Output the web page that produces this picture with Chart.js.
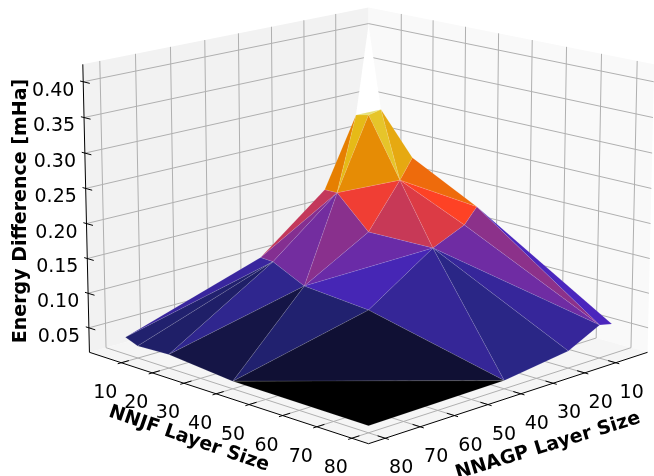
<!DOCTYPE html>
<html>
<head>
<meta charset="utf-8">
<script src="https://cdn.jsdelivr.net/npm/chart.js@4"></script>
<style>
html, body { margin: 0; padding: 0; background: #fff; overflow: hidden; }
canvas { display: block; }
</style>
</head>
<body>
<canvas id="surfaceChart" width="654" height="476"></canvas>
<script>
// layer sizes of the trained grid
const nnjfSizes = [6, 10, 20, 40, 80];
const nnagpSizes = [6, 10, 20, 40, 80];

// energy difference per NNAGP size, one value per NNJF size
const energyAgp5 = [0.410, 0.288, 0.227, 0.1775, 0.058];
const energyAgp10 = [0.280, 0.284, 0.198, 0.1555, 0.062];
const energyAgp20 = [0.179, 0.179, 0.1325, 0.134, 0.039];
const energyAgp40 = [0.102, 0.101, 0.078, 0.070, 0.026];
const energyAgp80 = [0.039, 0.032, 0.034, 0.025, 0.024];
const energyRows = [energyAgp5, energyAgp10, energyAgp20, energyAgp40, energyAgp80];

// how each grid cell is split: 0 = low/low to high/high, 1 = the other diagonal
const cellDiagonals = [
    [1, 0, 1, 0],
    [0, 1, 0, 1],
    [1, 0, 1, 0],
    [1, 0, 0, 1]
];

const sizeTicks = [10, 20, 30, 40, 50, 60, 70, 80];
const energyTicks = [0.05, 0.10, 0.15, 0.20, 0.25, 0.30, 0.35, 0.40];

// axis limits
const sizeMin = -0.5, sizeMax = 84.7;
const energyMin = 0.0144, energyMax = 0.4243;

// camera
const elev = 15 * Math.PI / 180;
const sinE = Math.sin(elev), cosE = Math.cos(elev);
const halfDiag = 0.086, halfHeight = 0.0454;
const pxScale = 3283, centerX = 368.5, centerY = 210;

function toUnit(size) { return (size - sizeMin) / (sizeMax - sizeMin); }
function depthOf(A, B, z) {
    const f = (A + B - 1) * halfDiag;
    const zc = (2 * (z - energyMin) / (energyMax - energyMin) - 1) * halfHeight;
    return 1 - f * cosE - zc * sinE;
}
function project(A, B, z) {
    const r = (A - B) * halfDiag;
    const f = (A + B - 1) * halfDiag;
    const zc = (2 * (z - energyMin) / (energyMax - energyMin) - 1) * halfHeight;
    const w = depthOf(A, B, z);
    return { x: r / w, y: (-f * sinE + zc * cosE) / w };
}

// CMRmap stops
const cmrStops = [
    [0, 0, 0], [0.15, 0.15, 0.5], [0.3, 0.15, 0.75], [0.6, 0.2, 0.5], [1, 0.25, 0.15],
    [0.9, 0.5, 0], [0.9, 0.75, 0.1], [0.9, 0.9, 0.5], [1, 1, 1]
];
function cmrColor(t) {
    const pos = Math.min(Math.max(t, 0), 1) * 8;
    const i = Math.min(Math.floor(pos), 7);
    const k = pos - i;
    const c = [0, 1, 2].map(n => Math.round(255 * (cmrStops[i][n] + (cmrStops[i + 1][n] - cmrStops[i][n]) * k)));
    return 'rgb(' + c.join(',') + ')';
}

// build the triangles from the grid
const triangles = [];
function vertex(i, j) { return { A: toUnit(nnjfSizes[i]), B: toUnit(nnagpSizes[j]), z: energyRows[j][i] }; }
cellDiagonals.forEach((row, j) => {
    row.forEach((diag, i) => {
        const a = vertex(i, j), b = vertex(i + 1, j), c = vertex(i, j + 1), d = vertex(i + 1, j + 1);
        const pair = diag === 0 ? [[a, b, d], [a, d, c]] : [[a, b, c], [b, d, c]];
        pair.forEach(v => triangles.push(v));
    });
});
const means = triangles.map(v => (v[0].z + v[1].z + v[2].z) / 3);
const meanLo = Math.min(...means), meanHi = Math.max(...means);

const datasets = [];
function addLine(points, color, width) {
    datasets.push({ data: points, showLine: true, pointRadius: 0, borderColor: color, borderWidth: width, fill: false, tension: 0 });
}
function addShape(points, color, edge, edgeWidth) {
    datasets.push({ data: points, showLine: true, pointRadius: 0, backgroundColor: color, borderColor: edge, borderWidth: edgeWidth, fill: 'shape', tension: 0, borderJoinStyle: 'round' });
}

// panes
addShape([project(0, 1, energyMin), project(0, 0, energyMin), project(0, 0, energyMax), project(0, 1, energyMax), project(0, 1, energyMin)], '#f2f2f2', 'rgba(0,0,0,0)', 0);
addShape([project(0, 0, energyMin), project(1, 0, energyMin), project(1, 0, energyMax), project(0, 0, energyMax), project(0, 0, energyMin)], '#f9f9f9', 'rgba(0,0,0,0)', 0);
addShape([project(0, 0, energyMin), project(1, 0, energyMin), project(1, 1, energyMin), project(0, 1, energyMin), project(0, 0, energyMin)], '#f5f5f5', 'rgba(0,0,0,0)', 0);

// grid lines
const gridColor = '#b0b0b0';
sizeTicks.forEach(t => {
    const u = toUnit(t);
    addLine([project(u, 0, energyMin), project(u, 0, energyMax)], gridColor, 1);
    addLine([project(0, u, energyMin), project(0, u, energyMax)], gridColor, 1);
    addLine([project(u, 0, energyMin), project(u, 1, energyMin)], gridColor, 1);
    addLine([project(0, u, energyMin), project(1, u, energyMin)], gridColor, 1);
});
energyTicks.forEach(z => {
    addLine([project(0, 1, z), project(0, 0, z), project(1, 0, z)], gridColor, 1);
});

// axis lines and tick marks
addLine([project(0, 1, energyMin), project(0, 1, energyMax)], '#000', 1);
addLine([project(0, 1, energyMin), project(1, 1, energyMin), project(1, 0, energyMin)], '#000', 1);
sizeTicks.forEach(t => {
    const u = toUnit(t);
    addLine([project(u, 1.012, energyMin), project(u, 0.975, energyMin)], '#000', 1);
    addLine([project(1.012, u, energyMin), project(0.975, u, energyMin)], '#000', 1);
});
energyTicks.forEach(z => {
    addLine([project(-0.012, 1.0, z), project(0.025, 1.0, z)], '#000', 1);
});

// surface, far triangles first
triangles
    .map((v, n) => ({ v, mean: means[n], depth: (depthOf(v[0].A, v[0].B, v[0].z) + depthOf(v[1].A, v[1].B, v[1].z) + depthOf(v[2].A, v[2].B, v[2].z)) / 3 }))
    .sort((p, q) => q.depth - p.depth)
    .forEach(tri => {
        const pts = tri.v.map(p => project(p.A, p.B, p.z));
        pts.push(pts[0]);
        addShape(pts, cmrColor((tri.mean - meanLo) / (meanHi - meanLo)), 'rgba(255,255,255,0.2)', 0.5);
    });

// chart.js draws the highest order first
datasets.forEach((d, n) => { d.order = datasets.length - n; });

const axisText = {
    id: 'axisText',
    afterDatasetsDraw(chart) {
        const ctx = chart.ctx;
        const sx = chart.scales.x, sy = chart.scales.y;
        const at = p => ({ x: sx.getPixelForValue(p.x), y: sy.getPixelForValue(p.y) });
        ctx.save();
        ctx.fillStyle = '#000';
        ctx.textAlign = 'center';
        ctx.textBaseline = 'middle';
        ctx.font = '19px "DejaVu Sans"';
        sizeTicks.forEach(t => {
            const u = toUnit(t);
            const left = at(project(u, 1, energyMin));
            ctx.fillText(String(t), left.x - 16, left.y + 30);
            const right = at(project(1, u, energyMin));
            ctx.fillText(String(t), right.x + 16, right.y + 30);
        });
        energyTicks.forEach(z => {
            const p = at(project(0, 1, z));
            ctx.fillText(z.toFixed(2), p.x - 30, p.y + 9);
        });
        ctx.font = 'bold 19px "DejaVu Sans"';
        const rotated = (text, x, y, deg) => {
            ctx.save();
            ctx.translate(x, y);
            ctx.rotate(deg * Math.PI / 180);
            ctx.fillText(text, 0, 0);
            ctx.restore();
        };
        rotated('Energy Difference [mHa]', 21, 211, -90);
        rotated('NNJF Layer Size', 189, 439, 19);
        rotated('NNAGP Layer Size', 548, 446, -17);
        ctx.restore();
    }
};

document.addEventListener('DOMContentLoaded', function() {
    const surfaceCtx = document.getElementById('surfaceChart').getContext('2d');
    new Chart(surfaceCtx, {
        type: 'scatter',
        data: { datasets: datasets },
        options: {
            responsive: false,
            animation: false,
            layout: { padding: 0 },
            scales: {
                x: { type: 'linear', display: false, min: -centerX / pxScale, max: (654 - centerX) / pxScale },
                y: { type: 'linear', display: false, min: (centerY - 476) / pxScale, max: centerY / pxScale }
            },
            plugins: {
                legend: { display: false },
                title: { display: false },
                tooltip: { enabled: false }
            }
        },
        plugins: [axisText]
    });
});
</script>
</body>
</html>
